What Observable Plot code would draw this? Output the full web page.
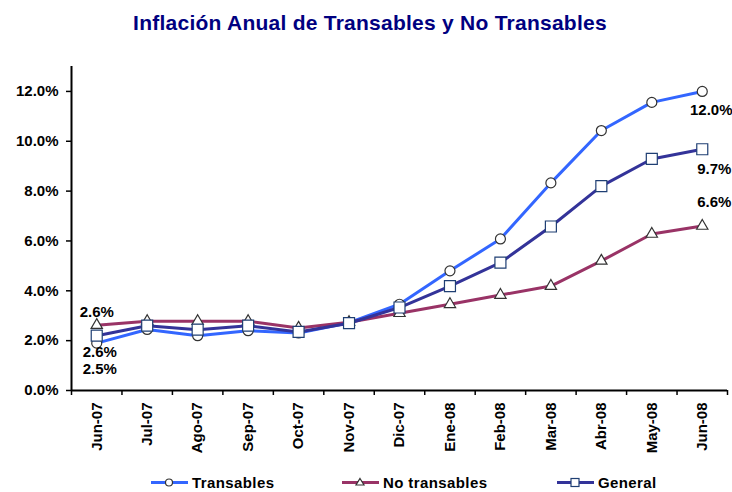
<!DOCTYPE html>
<html>
<head>
<meta charset="utf-8">
<script src="https://cdn.jsdelivr.net/npm/d3@7"></script>
<script src="https://cdn.jsdelivr.net/npm/@observablehq/plot@0.6"></script>
<style>
  html, body { margin: 0; padding: 0; background: #fff; }
  #wrap { position: relative; width: 732px; height: 492px; overflow: hidden; font-family: "Liberation Sans", Arial, sans-serif; }
  #title { position: absolute; left: 0; width: 740px; top: 12px; text-align: center; font-size: 21px; line-height: 21px; font-weight: bold; color: #000080; letter-spacing: 0.25px; }
  #chart { position: absolute; left: 0; top: 0; }
  .leg { position: absolute; top: 475px; height: 15px; display: flex; align-items: center; font-size: 15px; line-height: 15px; font-weight: bold; letter-spacing: 0.4px; color: #000; white-space: nowrap; }
  .leg svg { margin-right: 4px; }
</style>
</head>
<body>
<div id="wrap">
  <div id="chart"></div>
  <div id="title">Inflación Anual de Transables y No Transables</div>
  <div id="legend"></div>
</div>
<script>
const months = ["Jun-07","Jul-07","Ago-07","Sep-07","Oct-07","Nov-07","Dic-07","Ene-08","Feb-08","Mar-08","Abr-08","May-08","Jun-08"];
const transables   = [1.9, 2.45, 2.2, 2.4, 2.31, 2.72, 3.46, 4.8, 6.08, 8.33, 10.43, 11.56, 12.0];
const noTransables = [2.62, 2.78, 2.78, 2.78, 2.51, 2.74, 3.1, 3.46, 3.83, 4.19, 5.2, 6.28, 6.6];
const general      = [2.2, 2.6, 2.44, 2.6, 2.35, 2.7, 3.33, 4.19, 5.13, 6.58, 8.2, 9.29, 9.68];
const seriesNames  = ["Transables", "No transables", "General"];
const yTicks = [0, 2, 4, 6, 8, 10, 12];
const endLabels   = ["12.0%", "6.6%", "9.7%"];
const startLabels = ["2.5%", "2.6%", "2.6%"];

const colTrans = "#3366ff", colNo = "#993366", colGen = "#333399";
const idx = months.map((m, i) => i);
const last = months.length - 1;

function seriesMarks(vals, color, symbol, r, dotStroke) {
  return [
    Plot.line(vals, {x: (d, i) => i, y: d => d, stroke: color, strokeWidth: 3, strokeLinejoin: "round"}),
    Plot.dot(vals, {x: (d, i) => i, y: d => d, symbol, r, fill: "white", stroke: dotStroke, strokeWidth: 1.2})
  ];
}
function label(vals, i, text, dx, dy) {
  return Plot.text([vals[i]], {x: () => i, y: d => d, text: () => text, dx, dy,
    fill: "black", fontWeight: "bold", fontSize: 15, textAnchor: "middle", lineAnchor: "middle"});
}

const chart = Plot.plot({
  width: 732,
  height: 492,
  marginLeft: 71,
  marginRight: 5,
  marginTop: 66,
  marginBottom: 102,
  style: {fontFamily: "'Liberation Sans', Arial, sans-serif", fontSize: "15px", fontWeight: "bold", color: "black", background: "transparent"},
  x: {type: "linear", domain: [-0.5, last + 0.5], axis: null},
  y: {domain: [0, 13], axis: null},
  marks: [
    Plot.axisY({ticks: yTicks, tickFormat: d => d.toFixed(1) + "%", tickSize: 5, tickPadding: 8, stroke: "black", strokeWidth: 1.5}),
    Plot.axisX({ticks: [...idx.map(i => i - 0.5), last + 0.5], tickFormat: () => "", tickSize: 5, stroke: "black", strokeWidth: 1.5}),
    Plot.axisX({ticks: idx, tickFormat: i => months[i], tickSize: 0, tickPadding: 12, tickRotate: -90}),
    Plot.ruleX([-0.5], {stroke: "black", strokeWidth: 2}),
    Plot.ruleY([0], {stroke: "black", strokeWidth: 2}),
    ...seriesMarks(transables, colTrans, "circle", 5, "#333"),
    ...seriesMarks(noTransables, colNo, "triangle", 4.2, "#333"),
    ...seriesMarks(general, colGen, "square", 6.2, "#1f3f73"),
    label(transables, last, endLabels[0], 9, 19),
    label(noTransables, last, endLabels[1], 12, -24),
    label(general, last, endLabels[2], 12, 20),
    label(transables, 0, startLabels[0], 3, 26),
    label(noTransables, 0, startLabels[1], 0, -13),
    label(general, 0, startLabels[2], 3, 17)
  ]
});
document.getElementById("chart").appendChild(chart);

// legend
const legendItems = [
  {name: seriesNames[0], color: colTrans, sym: "circle", stroke: "#333", left: 151},
  {name: seriesNames[1], color: colNo, sym: "triangle", stroke: "#333", left: 342},
  {name: seriesNames[2], color: colGen, sym: "square", stroke: "#1f3f73", left: 557}
];
const legend = document.getElementById("legend");
for (const it of legendItems) {
  const div = document.createElement("div");
  div.className = "leg";
  div.style.left = it.left + "px";
  let sym = "";
  if (it.sym === "circle") sym = `<circle cx="18" cy="7.5" r="3.5" fill="white" stroke="${it.stroke}" stroke-width="1.2"/>`;
  if (it.sym === "triangle") sym = `<path d="M18,3.5 L22,10 L14,10 Z" fill="white" stroke="${it.stroke}" stroke-width="1.2"/>`;
  if (it.sym === "square") sym = `<rect x="14" y="3.5" width="8" height="8" fill="white" stroke="${it.stroke}" stroke-width="1.2"/>`;
  div.innerHTML = `<svg width="37" height="15"><line x1="0" x2="37" y1="7.5" y2="7.5" stroke="${it.color}" stroke-width="3"/>${sym}</svg><span>${it.name}</span>`;
  legend.appendChild(div);
}
</script>
</body>
</html>
